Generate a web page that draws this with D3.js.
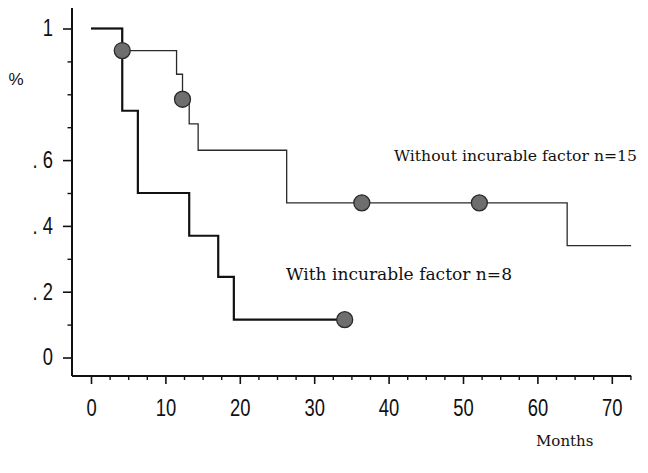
<!DOCTYPE html>
<html>
<head>
<meta charset="utf-8">
<script src="https://cdn.jsdelivr.net/npm/d3@7"></script>
<style>
  body { margin: 0; background: #fff; }
</style>
</head>
<body>
<div id="chart"></div>
<script>

// Kaplan-Meier curves (months, proportion surviving)
var withoutMonths = [0, 4.2, 11.5, 12.3, 13.2, 14.4, 26.3, 64.0, 72.6];
var withoutSurv   = [1, 0.933, 0.861, 0.785, 0.71, 0.63, 0.47, 0.34, 0.34];
var withoutCensorMonths = [4.2, 12.3, 36.4, 52.2];
var withoutCensorSurv   = [0.933, 0.785, 0.47, 0.47];

var withMonths = [0, 4.2, 6.3, 13.2, 17.1, 19.2, 34.1];
var withSurv   = [1, 0.75, 0.5, 0.37, 0.245, 0.115, 0.115];
var withCensorMonths = [34.1];
var withCensorSurv   = [0.115];

var xTicks = [0, 10, 20, 30, 40, 50, 60, 70];
var xMinorTicks = [2.5, 5, 7.5, 12.5, 15, 17.5, 22.5, 25, 27.5, 32.5, 35, 37.5,
                   42.5, 45, 47.5, 52.5, 55, 57.5, 62.5, 65, 67.5, 72.5];
var yTicks = [0, 0.2, 0.4, 0.6, 1];
var yTickLabels = ["0", ". 2", ". 4", ". 6", "1"];
var yMinorTicks = [0.1, 0.3, 0.5, 0.7, 0.8, 0.9];

var width = 648, height = 473;
var axisX = 72, axisY = 376;
var squeeze = 0.8;   // tick digits in the figure are a condensed face

var svg = d3.select("#chart").append("svg")
    .attr("width", width)
    .attr("height", height);

var x = d3.scaleLinear().domain([0, 70]).range([91, 611.8]);
var y = d3.scaleLinear().domain([0, 1]).range([357.5, 28.5]);

var tickFont = '"Liberation Sans", Arial, sans-serif';
var serif = '"DejaVu Serif", "Liberation Serif", serif';

// x axis
var xAxis = svg.append("g")
    .attr("transform", "translate(0," + axisY + ")")
    .call(d3.axisBottom(x).tickValues(xTicks).tickSize(8).tickSizeOuter(0).tickPadding(16));
xAxis.select(".domain").remove();
xAxis.selectAll("line").attr("stroke", "#111").attr("stroke-width", 1.6);
xAxis.selectAll("text")
    .attr("font-family", tickFont)
    .attr("font-size", 23)
    .attr("fill", "#111")
    .attr("transform", "scale(" + squeeze + ",1)");

var xMinor = svg.append("g")
    .attr("transform", "translate(0," + axisY + ")")
    .call(d3.axisBottom(x).tickValues(xMinorTicks).tickSize(4).tickFormat(""));
xMinor.select(".domain").remove();
xMinor.selectAll("line").attr("stroke", "#111").attr("stroke-width", 1.4);

// y axis
var yAxis = svg.append("g")
    .attr("transform", "translate(" + axisX + ",0)")
    .call(d3.axisLeft(y).tickValues(yTicks).tickSize(9).tickSizeOuter(0).tickPadding(10)
        .tickFormat(function(d, i) { return yTickLabels[i]; }));
yAxis.select(".domain").remove();
yAxis.selectAll("line").attr("stroke", "#111").attr("stroke-width", 1.6);
yAxis.selectAll("text")
    .attr("font-family", tickFont)
    .attr("font-size", 23)
    .attr("fill", "#111")
    .attr("x", -19 / squeeze)
    .attr("transform", "scale(" + squeeze + ",1)");

var yMinor = svg.append("g")
    .attr("transform", "translate(" + axisX + ",0)")
    .call(d3.axisLeft(y).tickValues(yMinorTicks).tickSize(4.5).tickFormat(""));
yMinor.select(".domain").remove();
yMinor.selectAll("line").attr("stroke", "#111").attr("stroke-width", 1.4);

// axis lines
svg.append("line")
    .attr("x1", axisX).attr("x2", axisX)
    .attr("y1", 8).attr("y2", axisY)
    .attr("stroke", "#111").attr("stroke-width", 2);
svg.append("line")
    .attr("x1", axisX).attr("x2", x(72.6))
    .attr("y1", axisY).attr("y2", axisY)
    .attr("stroke", "#111").attr("stroke-width", 2);

// curves
var step = d3.line()
    .x(function(d) { return x(d[0]); })
    .y(function(d) { return y(d[1]); })
    .curve(d3.curveStepAfter);

svg.append("path")
    .datum(d3.zip(withoutMonths, withoutSurv))
    .attr("d", step)
    .attr("fill", "none")
    .attr("stroke", "#2a2a2a")
    .attr("stroke-width", 1.3);

svg.append("path")
    .datum(d3.zip(withMonths, withSurv))
    .attr("d", step)
    .attr("fill", "none")
    .attr("stroke", "#111")
    .attr("stroke-width", 2.2);

// censor marks
var censors = d3.zip(withoutCensorMonths, withoutCensorSurv)
    .concat(d3.zip(withCensorMonths, withCensorSurv));
svg.selectAll(".censor")
    .data(censors)
  .enter().append("circle")
    .attr("class", "censor")
    .attr("cx", function(d) { return x(d[0]); })
    .attr("cy", function(d) { return y(d[1]); })
    .attr("r", 8)
    .attr("fill", "#6e6e6e")
    .attr("stroke", "#2a2a2a")
    .attr("stroke-width", 1.3);

// labels
svg.append("text")
    .attr("x", 394).attr("y", 161)
    .attr("font-family", serif).attr("font-size", 15.5).attr("fill", "#111")
    .attr("textLength", 243).attr("lengthAdjust", "spacingAndGlyphs")
    .text("Without incurable factor n=15");

svg.append("text")
    .attr("x", 286).attr("y", 280)
    .attr("font-family", serif).attr("font-size", 16.5).attr("fill", "#111")
    .attr("textLength", 226).attr("lengthAdjust", "spacingAndGlyphs")
    .text("With incurable factor n=8");

svg.append("text")
    .attr("x", 536).attr("y", 446)
    .attr("font-family", serif).attr("font-size", 15).attr("fill", "#111")
    .text("Months");

svg.append("text")
    .attr("x", 16).attr("y", 85)
    .attr("text-anchor", "middle")
    .attr("font-family", tickFont).attr("font-size", 17).attr("fill", "#111")
    .text("%");

</script>
</body>
</html>
